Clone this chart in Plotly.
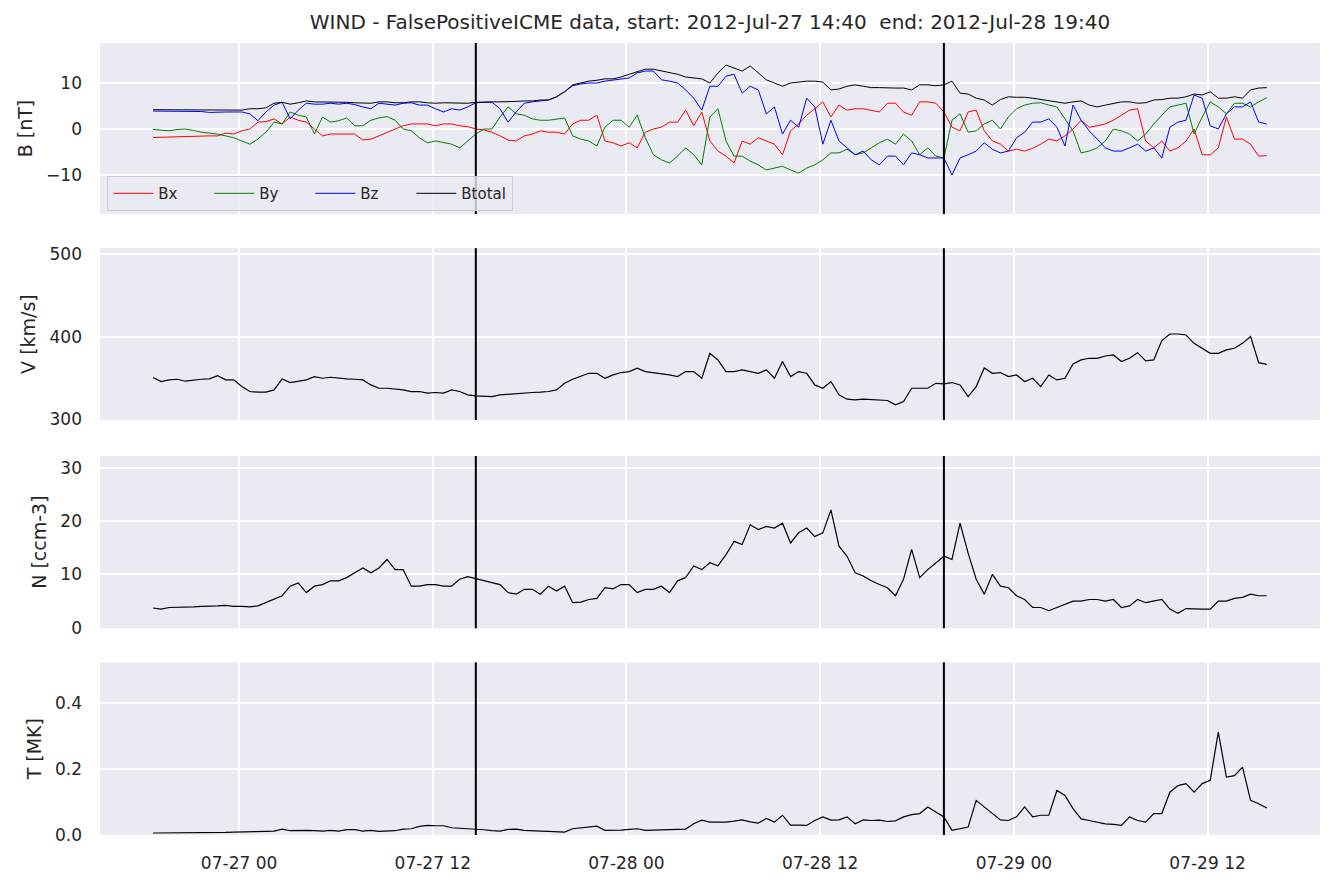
import pandas as pd
import plotly.graph_objects as go
from plotly.subplots import make_subplots

# ---- data (30-minute samples) ----
start_time = "2012-07-26 18:40"
n_points = 139
times = pd.date_range(start_time, periods=n_points, freq="30min")

bx = [-1.85, -1.8, -1.7, -1.6, -1.5, -1.5, -1.5, -1.5, -1.5, -0.9,
      -1.1, -0.4, 0.0, 1.5, 1.6, 2.2, 1.1, 2.6, 1.9, 1.5,
      0.0, -1.5, -1.1, -1.1, -1.2, -1.1, -2.4, -2.2, -1.5, -0.7,
      0.0, 0.7, 1.1, 1.1, 1.1, 0.7, 1.1, 1.1, 0.7, 0.5,
      0.0, -0.2, -0.7, -1.5, -2.4, -2.6, -1.5, -1.1, -0.4, -0.7,
      -0.7, -1.1, 1.1, 1.9, 1.9, 3.0, -2.6, -3.0, -3.7, -3.0,
      -4.1, -0.7, 0.0, 0.4, 1.5, 1.5, 4.1, 0.7, 3.7, -2.6,
      -4.8, -5.9, -7.4, -2.6, -3.3, -1.9, -2.6, -3.3, -5.6, -0.4,
      1.1, 3.0, 4.4, 5.9, 2.6, 5.2, 4.1, 4.4, 4.4, 4.1,
      3.7, 5.6, 5.6, 3.7, 3.0, 5.9, 5.9, 5.6, 3.7, 0.4,
      -0.4, 3.7, 4.1, -0.4, -2.6, -3.3, -4.8, -4.4, -4.8, -4.2,
      -3.3, -2.2, -2.6, -1.5, 0.0, 1.9, 0.4, 0.7, 1.1, 1.9,
      3.0, 4.1, 4.4, -2.6, -4.1, -2.6, -4.8, -4.1, -2.6, 0.0,
      -5.6, -5.6, -4.1, 2.6, -2.2, -2.2, -3.3, -5.9, -5.8]
by = [-0.1, -0.3, -0.4, -0.1, 0.0, -0.3, -0.7, -0.9, -1.1, -1.5,
      -1.9, -2.6, -3.3, -2.2, -0.7, 1.5, 1.1, 3.7, 3.0, 2.6,
      -1.1, 2.6, 1.5, 1.8, 2.4, 0.7, 0.7, 1.9, 2.4, 2.7,
      1.9, 0.0, -0.4, -1.9, -3.0, -2.6, -3.0, -3.3, -4.1, -2.6,
      -1.1, 0.0, 0.0, 2.6, 4.8, 3.3, 3.0, 2.2, 1.9, 1.9,
      2.2, 2.4, -1.5, -2.2, -2.6, -3.7, 0.4, 1.9, 1.9, 0.4,
      3.0, -1.9, -5.6, -6.7, -7.4, -5.9, -4.1, -5.6, -7.8, 2.6,
      4.4, -2.6, -5.9, -5.9, -7.0, -7.8, -8.9, -8.5, -8.1, -8.9,
      -9.6, -8.5, -7.8, -6.7, -5.2, -5.2, -4.4, -5.6, -5.2, -4.1,
      -3.0, -2.2, -3.3, -1.1, -2.6, -5.6, -4.1, -5.9, -6.3, 1.9,
      3.3, -0.7, -0.4, 1.1, 1.9, 0.0, 2.6, 4.4, 5.2, 5.6,
      5.7, 5.2, 4.8, 2.2, -0.4, -5.2, -4.8, -4.1, -2.6, 0.0,
      -0.4, -1.1, -2.6, -1.1, 1.1, 3.0, 4.8, 5.2, 5.6, -1.1,
      2.6, 5.9, 4.8, 3.3, 5.6, 5.6, 4.8, 5.9, 6.8]
bz = [3.9, 3.9, 3.9, 3.9, 3.9, 3.9, 3.8, 3.6, 3.7, 3.7,
      3.7, 3.7, 3.3, 1.8, 3.7, 5.2, 5.8, 2.2, 4.1, 5.6,
      5.4, 5.4, 5.6, 5.4, 5.6, 5.3, 4.8, 4.4, 5.6, 5.4,
      5.2, 5.6, 5.7, 5.2, 5.2, 4.4, 3.7, 4.4, 4.1, 4.8,
      5.7, 5.8, 5.8, 4.4, 1.5, 3.7, 5.6, 5.9, 6.1, 6.3,
      7.0, 8.1, 9.4, 9.8, 10.0, 10.0, 10.4, 10.6, 10.9, 11.1,
      12.2, 12.6, 12.6, 10.7, 10.4, 10.0, 8.5, 6.7, 4.1, 9.3,
      9.3, 11.5, 11.9, 7.8, 9.3, 8.5, 3.3, 4.8, -1.1, 1.9,
      0.4, 6.7, 4.8, -3.3, 1.9, -2.6, -4.1, -5.6, -4.8, -6.7,
      -7.8, -5.9, -5.9, -7.8, -5.2, -5.6, -6.3, -6.3, -6.3, -10.0,
      -6.3, -5.6, -4.8, -3.0, -4.4, -5.2, -4.8, -1.9, -0.7, 1.5,
      1.5, 2.2, 0.4, -3.7, 5.2, 1.9, -0.4, -2.2, -4.1, -4.8,
      -4.8, -4.1, -3.3, -4.8, -4.1, -6.3, 0.4, 1.5, 1.9, 7.4,
      6.7, 0.7, 0.0, 3.3, 4.8, 4.8, 5.9, 1.5, 1.1]
btotal = [4.2, 4.2, 4.2, 4.2, 4.2, 4.2, 4.1, 4.1, 4.1, 4.1,
          4.1, 4.1, 4.4, 4.4, 4.6, 5.6, 5.8, 5.4, 5.7, 6.1,
          5.9, 5.9, 5.8, 5.8, 5.8, 5.7, 5.7, 5.6, 5.9, 5.9,
          5.7, 5.7, 5.9, 5.9, 5.7, 5.6, 5.7, 5.7, 5.6, 5.6,
          5.8, 5.9, 5.9, 5.9, 5.9, 6.0, 6.1, 6.1, 6.3, 6.3,
          7.0, 8.1, 9.6, 10.0, 10.4, 10.6, 10.9, 10.9, 11.3, 11.9,
          12.4, 13.0, 13.0, 12.6, 12.2, 11.9, 11.3, 11.1, 10.9, 10.0,
          12.2, 13.9, 13.3, 12.6, 13.7, 12.2, 10.7, 10.0, 9.3, 10.0,
          10.2, 10.4, 10.4, 10.2, 8.5, 8.7, 9.3, 9.6, 9.3, 9.0,
          9.0, 8.9, 8.9, 8.9, 8.5, 9.6, 9.6, 9.4, 9.6, 10.4,
          7.8, 7.6, 6.7, 6.3, 5.2, 6.4, 7.0, 6.9, 6.9, 6.7,
          6.4, 6.1, 5.9, 5.6, 5.9, 6.1, 5.2, 4.8, 5.2, 5.6,
          5.9, 5.9, 5.6, 5.7, 6.3, 6.4, 6.7, 6.7, 7.0, 7.6,
          7.4, 8.1, 6.7, 6.7, 7.0, 6.7, 8.5, 8.9, 9.0]
speed = [350.4, 345.6, 347.6, 348.4, 346.0, 347.6, 348.4, 348.8, 352.8, 347.6,
         347.6, 339.5, 333.5, 332.7, 332.7, 335.5, 348.8, 344.4, 345.6, 347.6,
         351.6, 349.6, 350.8, 349.6, 348.8, 348.4, 347.6, 341.5, 337.5, 337.5,
         336.7, 335.5, 333.5, 333.5, 331.5, 332.3, 331.5, 335.5, 333.5, 329.4,
         328.2, 327.4, 327.4, 329.4, 330.2, 331.5, 331.5, 332.3, 332.7, 333.5,
         335.5, 343.5, 348.4, 351.6, 355.6, 355.6, 349.6, 353.6, 356.5, 357.7,
         361.7, 357.7, 356.5, 354.4, 353.6, 351.6, 357.7, 357.7, 349.6, 379.8,
         371.8, 357.7, 357.7, 359.7, 357.7, 355.6, 359.7, 349.6, 369.8, 351.6,
         357.7, 355.6, 341.5, 337.5, 345.6, 329.4, 324.2, 323.4, 324.2, 323.4,
         322.6, 322.6, 317.3, 321.4, 337.5, 337.5, 337.5, 343.5, 342.7, 344.4,
         341.5, 327.4, 339.5, 362.0, 355.6, 356.5, 351.6, 353.6, 345.6, 349.6,
         339.5, 353.6, 347.6, 349.6, 366.9, 371.8, 373.8, 373.8, 376.6, 377.8,
         369.8, 373.8, 380.6, 370.6, 371.8, 395.2, 403.2, 403.2, 402.0, 391.9,
         385.9, 379.8, 379.8, 383.9, 385.9, 391.9, 400.0, 368.5, 366.5]
density = [3.7, 3.5, 3.8, 3.8, 3.9, 3.9, 4.0, 4.0, 4.1, 4.2,
           4.0, 4.0, 3.9, 4.1, 4.7, 5.3, 6.0, 7.8, 8.4, 6.6,
           7.8, 8.1, 8.8, 8.8, 9.4, 10.3, 11.2, 10.3, 11.2, 12.8,
           10.9, 10.9, 7.8, 7.8, 8.1, 8.1, 7.8, 7.8, 9.1, 9.6,
           9.2, 8.8, 8.4, 8.1, 6.6, 6.3, 7.2, 7.2, 6.3, 7.8,
           6.9, 7.8, 4.7, 4.8, 5.3, 5.5, 7.5, 7.3, 8.1, 8.1,
           6.6, 7.2, 7.2, 7.8, 6.6, 8.8, 9.4, 11.6, 10.9, 12.2,
           11.6, 13.7, 16.2, 15.6, 19.3, 18.4, 19.0, 18.7, 19.6, 15.9,
           17.8, 18.7, 17.1, 17.8, 22.1, 15.3, 13.4, 10.3, 9.7, 8.8,
           8.1, 7.5, 6.0, 9.1, 14.7, 9.4, 10.9, 12.2, 13.4, 12.8,
           19.6, 14.0, 9.1, 6.3, 10.0, 7.8, 7.5, 6.0, 5.3, 3.8,
           3.8, 3.2, 3.8, 4.4, 5.0, 5.0, 5.3, 5.3, 5.0, 5.3,
           3.8, 4.1, 5.3, 4.7, 5.0, 5.3, 3.5, 2.7, 3.6, 3.5,
           3.5, 3.5, 5.0, 5.0, 5.5, 5.7, 6.3, 6.0, 6.0]
temperature = [0.006, 0.006, 0.007, 0.007, 0.007, 0.007, 0.008, 0.008, 0.008, 0.008,
               0.009, 0.009, 0.010, 0.010, 0.011, 0.012, 0.018, 0.013, 0.014, 0.014,
               0.013, 0.012, 0.014, 0.012, 0.016, 0.016, 0.012, 0.014, 0.011, 0.012,
               0.013, 0.018, 0.019, 0.026, 0.029, 0.028, 0.028, 0.022, 0.021, 0.020,
               0.019, 0.016, 0.013, 0.012, 0.017, 0.018, 0.014, 0.014, 0.012, 0.011,
               0.010, 0.009, 0.019, 0.022, 0.024, 0.027, 0.014, 0.014, 0.015, 0.017,
               0.019, 0.014, 0.015, 0.016, 0.017, 0.017, 0.018, 0.034, 0.045, 0.039,
               0.039, 0.039, 0.042, 0.046, 0.040, 0.036, 0.050, 0.039, 0.060, 0.030,
               0.030, 0.029, 0.044, 0.055, 0.045, 0.046, 0.055, 0.034, 0.046, 0.044,
               0.045, 0.041, 0.043, 0.055, 0.062, 0.065, 0.085, 0.070, 0.055, 0.014,
               0.020, 0.024, 0.105, 0.085, 0.065, 0.046, 0.044, 0.055, 0.085, 0.055,
               0.060, 0.060, 0.135, 0.120, 0.080, 0.049, 0.044, 0.039, 0.034, 0.032,
               0.029, 0.055, 0.044, 0.039, 0.065, 0.065, 0.130, 0.150, 0.156, 0.130,
               0.156, 0.166, 0.312, 0.176, 0.180, 0.206, 0.105, 0.095, 0.082]

event_start = "2012-07-27 14:40"
event_end = "2012-07-28 19:40"
title_text = "WIND - FalsePositiveICME data, start: 2012-Jul-27 14:40  end: 2012-Jul-28 19:40"
y_labels = ["B [nT]", "V [km/s]", "N [ccm-3]", "T [MK]"]

# ---- figure ----
FONT = "DejaVu Sans"
TXT = "#262626"
W, H = 1328, 878  # page body has an 8px margin
fig = make_subplots(rows=4, cols=1, shared_xaxes=True, vertical_spacing=0.04)

mag = [("Bx", bx, "red"), ("By", by, "green"), ("Bz", bz, "blue"), ("Btotal", btotal, "black")]
for name, vals, col in mag:
    fig.add_trace(go.Scatter(x=times, y=vals, mode="lines", name=name,
                             line=dict(color=col, width=1)), row=1, col=1)
for r, vals in [(2, speed), (3, density), (4, temperature)]:
    fig.add_trace(go.Scatter(x=times, y=vals, mode="lines", showlegend=False,
                             line=dict(color="black", width=1.2)), row=r, col=1)

domains = [[0.784, 1.0], [0.524, 0.741], [0.261, 0.4785], [0.0, 0.218]]
ranges = [[-18.5, 18.7], [299, 507.3], [-0.1, 32.2], [0, 0.524]]
dticks = [10, 100, 10, 0.2]
tickformats = ["", "", "", ".1f"]
for i in range(4):
    yk = "yaxis" if i == 0 else f"yaxis{i+1}"
    fig.layout[yk].update(domain=domains[i], range=ranges[i], dtick=dticks[i],
                          tickformat=tickformats[i],
                          gridcolor="white", gridwidth=1.5, zeroline=False,
                          showline=False, ticks="", ticklabelstandoff=17,
                          tickfont=dict(family=FONT, size=17, color=TXT),
                          title=dict(text=y_labels[i], standoff=8,
                                     font=dict(family=FONT, size=19, color=TXT)))
    xk = "xaxis" if i == 0 else f"xaxis{i+1}"
    fig.layout[xk].update(range=["2012-07-26 15:23", "2012-07-29 18:58"],
                          tick0="2012-07-27 00:00", dtick=12 * 3600 * 1000,
                          tickformat="%m-%d %H", gridcolor="white", gridwidth=1.5,
                          zeroline=False, showline=False, ticks="",
                          ticklabelstandoff=16,
                          tickfont=dict(family=FONT, size=17, color=TXT))
    fig.add_vline(x=pd.Timestamp(event_start).timestamp() * 1000, row=i + 1, col=1,
                  line=dict(color="black", width=2))
    fig.add_vline(x=pd.Timestamp(event_end).timestamp() * 1000, row=i + 1, col=1,
                  line=dict(color="black", width=2))

fig.update_layout(
    width=W, height=H,
    margin=dict(l=92, r=16, t=35, b=51),
    paper_bgcolor="white", plot_bgcolor="#EAEAF2",
    font=dict(family=FONT, color=TXT),
    title=dict(text=title_text, x=0.5, xref="paper", xanchor="center",
               y=1 - 14 / H, yanchor="middle",
               font=dict(family=FONT, size=20, color=TXT)),
    legend=dict(orientation="h", x=0.006, y=0.832, xanchor="left", yanchor="top",
                bgcolor="rgba(234,234,242,0.8)", bordercolor="#CCCCCC", borderwidth=1,
                font=dict(family=FONT, size=15, color=TXT), entrywidth=46,
                itemwidth=40),
)

fig.write_html("out.html")
